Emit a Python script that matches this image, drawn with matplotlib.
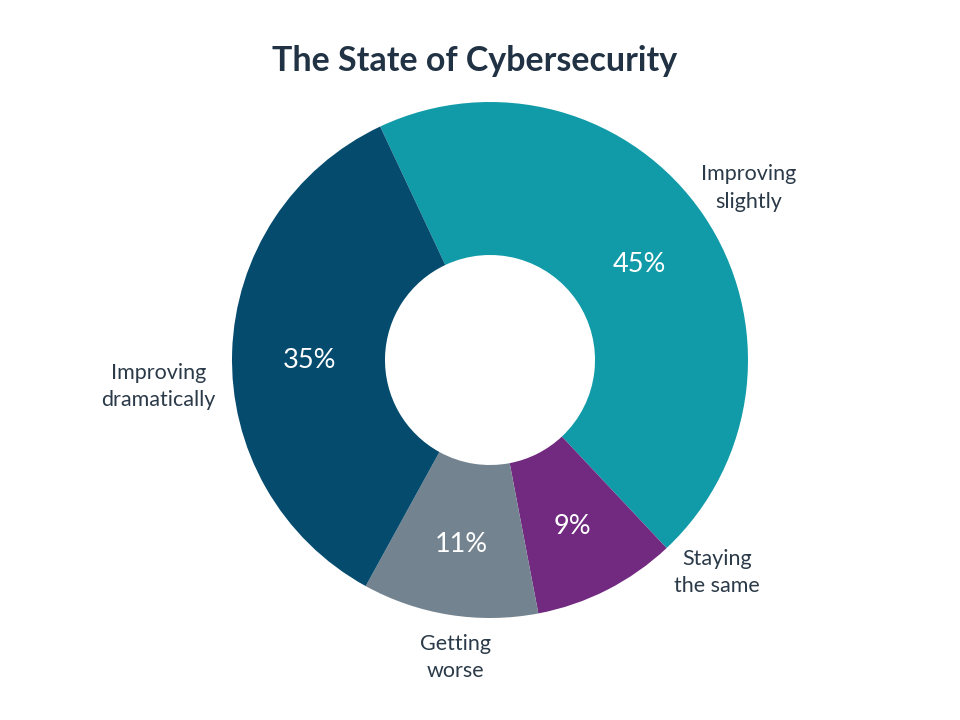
import matplotlib
matplotlib.use("Agg")
import matplotlib.pyplot as plt
import numpy as np

categories = ["Improving slightly", "Staying the same", "Getting worse", "Improving dramatically"]
label_text = ["Improving\nslightly", "Staying\nthe same", "Getting\nworse", "Improving\ndramatically"]
values = [45, 9, 11, 35]
colors = ["#119BA8", "#722A81", "#73838F", "#054B6E"]

plt.rcParams['font.family'] = ['Lato', 'DejaVu Sans']

fig = plt.figure(figsize=(9.6, 7.2), dpi=100)
ax = fig.add_axes([232/960, (720-360-258)/720, 516/960, 516/720])
ax.set_aspect('equal')

start = 90 + 25.2
wedges, _, autotexts = ax.pie(values, colors=colors, startangle=start, counterclock=False,
                              radius=1.0, autopct=lambda p: f"{p:.0f}%", pctdistance=0.70,
                              wedgeprops=dict(width=0.593, linewidth=0),
                              textprops=dict(color="white", fontsize=19.5))
for t in autotexts:
    x, y = t.get_position()
    t.set_position((x, y - 0.022))
ax.set_xlim(-1, 1)
ax.set_ylim(-1, 1)

# outer label placement (angle in degrees, radius)
label_pos = [(33.6, 1.205), (-43.2, 1.205), (-96.7, 1.16), (184.5, 1.29)]
for txt, (ang, r) in zip(label_text, label_pos):
    a = np.deg2rad(ang)
    ax.text(r*np.cos(a), r*np.sin(a), txt, ha="center", va="center", color="#2B3A48",
            fontsize=15.5, linespacing=1.45)

fig.text(475/960, 1-61/720, "The State of Cybersecurity", ha="center", va="center",
         fontsize=24.5, fontweight="bold", color="#203243")

fig.savefig("out.png", dpi=100, facecolor="white")
